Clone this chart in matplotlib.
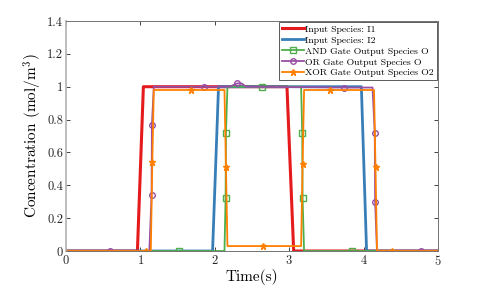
import matplotlib
matplotlib.use("Agg")
import matplotlib.pyplot as plt

plt.rcParams['font.family'] = 'serif'
plt.rcParams['font.serif'] = ['cmr10']
plt.rcParams['mathtext.fontset'] = 'cm'
plt.rcParams['axes.formatter.use_mathtext'] = True

# input species
i1_t = [0, 0.96, 1.04, 2.97, 3.06, 5]
i1_y = [0, 0, 1, 1, 0, 0]
i2_t = [0, 1.97, 2.05, 3.97, 4.04, 5]
i2_y = [0, 0, 1, 1, 0, 0]

# gate outputs
and_t = [0, 1.52, 2.13, 2.145, 2.15, 2.17, 2.63, 3.16, 3.175, 3.18, 3.20, 3.84, 5]
and_y = [0, 0, 0, 0.32, 0.72, 1.0, 1.0, 1.0, 0.72, 0.32, 0, 0, 0]
and_mk = [1, 3, 4, 6, 8, 9, 11]

or_t = [0, 0.59, 1.12, 1.15, 1.155, 1.18, 1.85, 2.2, 2.3, 2.36, 2.42, 3.73, 4.12, 4.15, 4.155, 4.18, 4.77, 5]
or_y = [0, 0, 0, 0.34, 0.77, 1.0, 1.0, 1.0, 1.02, 1.02, 1.0, 0.995, 0.995, 0.72, 0.30, 0, 0, 0]
or_mk = [1, 3, 4, 6, 8, 11, 13, 14, 16]

xor_t = [0, 1.07, 1.14, 1.16, 1.18, 1.68, 2.13, 2.15, 2.17, 2.65, 3.16, 3.18, 3.20, 3.55, 4.14, 4.16, 4.18, 4.38, 5]
xor_y = [0, 0, 0, 0.54, 0.98, 0.98, 0.98, 0.51, 0.03, 0.03, 0.03, 0.53, 0.98, 0.98, 0.98, 0.51, 0, 0, 0]
xor_mk = [1, 3, 5, 7, 9, 11, 13, 15, 17]

fig = plt.figure(figsize=(4.85, 2.91), dpi=100)
ax = fig.add_axes([66 / 485, 40 / 291, 372 / 485, 230 / 291])

ax.plot(i1_t, i1_y, color='#e41a1c', lw=2.2, label='Input Species: I1')
ax.plot(i2_t, i2_y, color='#377eb8', lw=2.0, label='Input Species: I2')
ax.plot(and_t, and_y, color='#4daf4a', lw=1.3, marker='s', ms=4, mfc='none',
        markevery=and_mk, label='AND Gate Output Species O')
ax.plot(or_t, or_y, color='#984ea3', lw=1.3, marker='o', ms=4, mfc='none',
        markevery=or_mk, label='OR Gate Output Species O')
ax.plot(xor_t, xor_y, color='#ff7f00', lw=1.3, marker='*', ms=5,
        markevery=xor_mk, label='XOR Gate Output Species O2')

ax.set_xlim(0, 5)
ax.set_ylim(0, 1.4)
ax.set_xticks([0, 1, 2, 3, 4, 5])
ax.set_yticks([0, 0.2, 0.4, 0.6, 0.8, 1, 1.2, 1.4])
ax.set_yticklabels(['0', '0.2', '0.4', '0.6', '0.8', '1', '1.2', '1.4'])
ax.tick_params(direction='in', length=3, width=0.6, labelsize=9, colors='0.15',
               top=True, right=True, pad=2)
for s in ax.spines.values():
    s.set_color('0.45')
    s.set_linewidth(0.7)
ax.spines['left'].set_color('0.72')
ax.spines['left'].set_linewidth(1.3)

ax.set_xlabel('Time(s)', fontsize=11, labelpad=1)
ax.set_ylabel('Concentration (mol/m$^3$)', fontsize=11, labelpad=2)

leg = ax.legend(loc='upper right', fontsize=7, fancybox=False, framealpha=1,
                edgecolor='0.25', borderaxespad=0.1, handlelength=2.2,
                borderpad=0.3, labelspacing=0.22, handletextpad=0.2)
leg.get_frame().set_linewidth(0.6)

fig.savefig('out.png', dpi=100)
